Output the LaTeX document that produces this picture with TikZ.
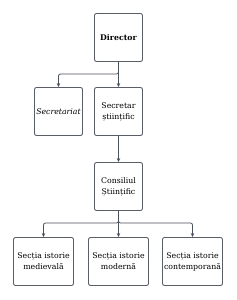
\documentclass[tikz,border=0pt]{standalone}
\usepackage{fontspec}
\setmainfont{DejaVu Serif}
\usetikzlibrary{arrows.meta}
\definecolor{boxgray}{HTML}{5A5E66}
\definecolor{linegray}{HTML}{4A505C}
\tikzset{
  unit/.style={draw=boxgray, line width=0.9pt, rounded corners=2pt, fill=white,
    minimum width=48pt, minimum height=48pt, align=center, inner sep=1pt,
    font=\fontsize{7.8}{11}\selectfont},
  wide/.style={unit, minimum width=60pt},
  link/.style={draw=linegray, line width=0.8pt, rounded corners=2pt,
    -{Stealth[length=4pt,width=3.5pt]}}
}
\begin{document}
\begin{tikzpicture}[x=1pt,y=-1pt]
    \useasboundingbox (0,0) rectangle (236,300);
    % conducerea
    \node[unit] (dir) at (118.5,37.5) {\textbf{Director}};
    \node[unit] (secr) at (58.5,111.5) {\textit{Secretariat}};
    \node[unit] (secst) at (118.5,111.5) {Secretar\\științific};
    \node[unit] (cons) at (118.5,186.5) {Consiliul\\Științific};

    % sectiile
    \node[wide] (med) at (43.5,261.5) {Secția istorie\\medievală};
    \node[wide] (mod) at (118.5,261.5) {Secția istorie\\modernă};
    \node[wide] (cont) at (192.5,261.5) {Secția istorie\\contemporană};

    % legaturi
    \draw[link] (dir.south) -- (118.5,74) -| (secr.north);
    \draw[link] (dir.south) -- (secst.north);
    \draw[link] (secst.south) -- (cons.north);
    \draw[link] (cons.south) -- (118.5,223) -| (med.north);
    \draw[link] (cons.south) -- (mod.north);
    \draw[link] (cons.south) -- (118.5,223) -| (cont.north);
\end{tikzpicture}
\end{document}
